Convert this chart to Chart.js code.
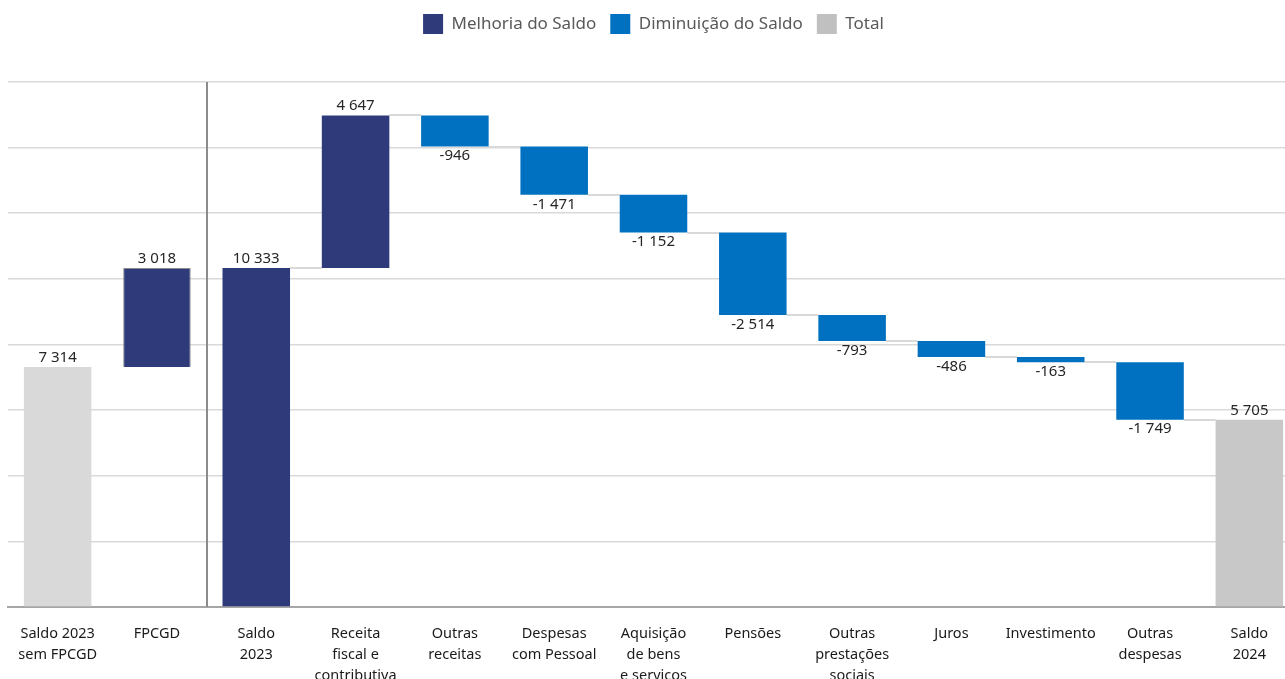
<!DOCTYPE html>
<html>
<head>
<meta charset="utf-8">
<script src="https://cdn.jsdelivr.net/npm/chart.js@4.4.1/dist/chart.umd.min.js"></script>
<style>
  html, body { margin: 0; padding: 0; background: #fff; overflow: hidden; }
  #wrap { width: 1300px; height: 702px; }
</style>
</head>
<body>
<div id="wrap"><canvas id="saldo"></canvas></div>
<script>
// categorias (eixo x)
var categories = [
  ["Saldo 2023", "sem FPCGD"],
  ["FPCGD"],
  ["Saldo", "2023"],
  ["Receita", "fiscal e", "contributiva"],
  ["Outras", "receitas"],
  ["Despesas", "com Pessoal"],
  ["Aquisição", "de bens", "e serviços"],
  ["Pensões"],
  ["Outras", "prestações", "sociais"],
  ["Juros"],
  ["Investimento"],
  ["Outras", "despesas"],
  ["Saldo", "2024"]
];
var values = [7314, 3018, 10333, 4647, -946, -1471, -1152, -2514, -793, -486, -163, -1749, 5705];
// série de cada barra e se começa no zero (saldos)
var series = ["total", "up", "up", "up", "down", "down", "down", "down", "down", "down", "down", "down", "total"];
var fromZero = [true, false, true, false, false, false, false, false, false, false, false, false, true];
var seriesNames = ["Melhoria do Saldo", "Diminuição do Saldo", "Total"];

// intervalos flutuantes do waterfall
var level = 0;
var ranges = values.map(function (v, i) {
  if (fromZero[i]) { level = v; return [0, v]; }
  var start = level;
  level += v;
  return [start, level];
});
function pick(kind) {
  return ranges.map(function (r, i) { return series[i] === kind ? r : null; });
}
function fmt(v) {
  var s = Math.abs(v).toString().replace(/\B(?=(\d{3})+(?!\d))/g, " ");
  return (v < 0 ? "-" : "") + s;
}

var dsIndex = { up: 0, down: 1, total: 2 };

// linhas de ligação + separador
var connectors = {
  id: "connectors",
  beforeDatasetsDraw: function (chart) {
    var c = chart.ctx, y = chart.scales.y, area = chart.chartArea;
    c.save();
    c.strokeStyle = "#d9d9d9";
    c.lineWidth = 2;
    for (var i = 2; i < values.length - 1; i++) {
      var a = chart.getDatasetMeta(dsIndex[series[i]]).data[i];
      var b = chart.getDatasetMeta(dsIndex[series[i + 1]]).data[i + 1];
      var py = Math.round(y.getPixelForValue(ranges[i][1]));
      c.beginPath();
      c.moveTo(a.x + a.width / 2, py);
      c.lineTo(b.x - b.width / 2, py);
      c.stroke();
    }
    var x = chart.scales.x;
    var sx = Math.round((x.getPixelForValue(1) + x.getPixelForValue(2)) / 2);
    c.strokeStyle = "#8c8c8c";
    c.lineWidth = 2;
    c.beginPath();
    c.moveTo(sx, area.top);
    c.lineTo(sx, area.bottom);
    c.stroke();
    c.restore();
  }
};

// rótulos de valores
var valueLabels = {
  id: "valueLabels",
  afterDatasetsDraw: function (chart) {
    var c = chart.ctx;
    c.save();
    c.font = "15px 'Noto Sans'";
    c.fillStyle = "#262626";
    c.textAlign = "center";
    values.forEach(function (v, i) {
      var el = chart.getDatasetMeta(dsIndex[series[i]]).data[i];
      var top = Math.min(el.y, el.base), bottom = Math.max(el.y, el.base);
      if (series[i] === "down") {
        c.textBaseline = "top";
        c.fillText(fmt(v), el.x, bottom + 2);
      } else {
        c.textBaseline = "bottom";
        c.fillText(fmt(v), el.x, top - 2);
      }
    });
    c.restore();
  }
};

var legendSpace = {
  id: "legendSpace",
  beforeInit: function (chart) {
    var fit = chart.legend.fit;
    chart.legend.fit = function () {
      fit.bind(chart.legend)();
      this.height = 82;
    };
  }
};

var ctx = document.getElementById("saldo").getContext("2d");
var chart = new Chart(ctx, {
  type: "bar",
  data: {
    labels: categories,
    datasets: [
      {
        label: seriesNames[0],
        data: pick("up"),
        backgroundColor: "#2e3a7a",
        borderColor: function (c) { return c.dataIndex === 1 ? "#8c8c8c" : "#2e3a7a"; },
        borderWidth: function (c) { return c.dataIndex === 1 ? 1 : 0; },
        grouped: false
      },
      {
        label: seriesNames[1],
        data: pick("down"),
        backgroundColor: "#0070c0",
        borderWidth: 0,
        grouped: false
      },
      {
        label: seriesNames[2],
        data: pick("total"),
        backgroundColor: function (c) { return c.dataIndex === 0 ? "#d9d9d9" : "#c8c8c8"; },
        borderWidth: 0,
        grouped: false
      }
    ]
  },
  options: {
    responsive: true,
    maintainAspectRatio: false,
    animation: false,
    categoryPercentage: 1,
    barPercentage: 0.68,
    layout: { padding: { left: 8, right: 1, top: 0, bottom: 0 } },
    plugins: {
      legend: {
        position: "top",
        labels: {
          boxWidth: 20,
          boxHeight: 20,
          padding: 14,
          color: "#595959",
          font: { family: "'Noto Sans'", size: 17 },
          generateLabels: function (chart) {
            var items = Chart.defaults.plugins.legend.labels.generateLabels(chart);
            items.forEach(function (it) {
              if (it.datasetIndex === 2) { it.fillStyle = "#c0c0c0"; }
              it.strokeStyle = it.fillStyle;
              it.lineWidth = 0;
            });
            return items;
          }
        }
      },
      tooltip: { enabled: false }
    },
    scales: {
      x: {
        grid: { display: false, drawTicks: false },
        border: { color: "#a6a6a6", width: 2 },
        ticks: {
          autoSkip: false,
          maxRotation: 0,
          padding: 16,
          color: "#1a1a1a",
          font: { family: "'Noto Sans'", size: 14.5, lineHeight: 1.45 }
        }
      },
      y: {
        min: 0,
        max: 16000,
        ticks: { display: false, stepSize: 2000 },
        grid: { color: "#d9d9d9", lineWidth: 1.5, drawTicks: false },
        border: { display: false }
      }
    }
  },
  plugins: [connectors, valueLabels, legendSpace]
});
</script>
</body>
</html>
